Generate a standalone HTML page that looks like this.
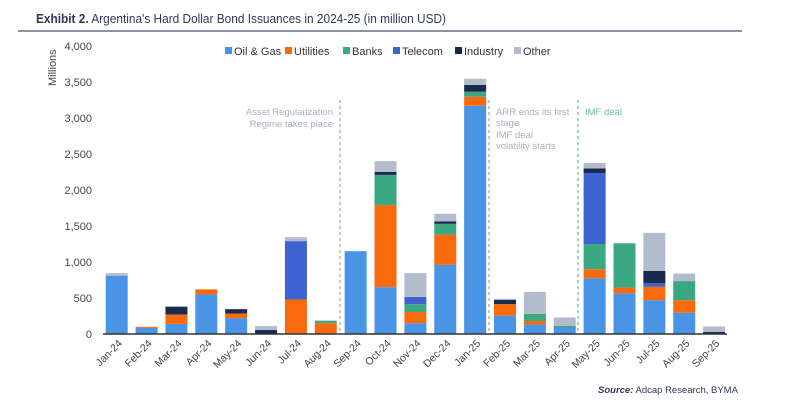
<!DOCTYPE html>
<html><head><meta charset="utf-8"><style>
body{margin:0;background:#fff;width:800px;height:410px;overflow:hidden;font-family:"Liberation Sans",sans-serif}
svg text{font-family:"Liberation Sans",sans-serif}
</style></head><body>
<svg id="chart" width="800" height="410" viewBox="0 0 800 410">
<text x="36" y="23" font-size="13" fill="#2a3a5a" textLength="410" lengthAdjust="spacingAndGlyphs"><tspan font-weight="bold">Exhibit 2.</tspan> Argentina's Hard Dollar Bond Issuances in 2024-25 (in million USD)</text>
<line x1="18" y1="31" x2="742" y2="31" stroke="#8a94a4" stroke-width="2"/>
<text transform="translate(56,86) rotate(-90)" font-size="11" fill="#444">Millions</text>
<g id="yaxis"></g>
<g id="bars"></g>
<g id="xaxis"></g>
<g id="legend"></g>
<g id="annot"></g>
<text x="598" y="393" font-size="9.5" fill="#2a3a5a"><tspan font-weight="bold" font-style="italic">Source:</tspan> Adcap Research, BYMA</text>
</svg>
<script>
const categories=["Jan-24","Feb-24","Mar-24","Apr-24","May-24","Jun-24","Jul-24","Aug-24","Sep-24","Oct-24","Nov-24","Dec-24","Jan-25","Feb-25","Mar-25","Apr-25","May-25","Jun-25","Jul-25","Aug-25","Sep-25"];
const seriesNames=["Oil & Gas","Utilities","Banks","Telecom","Industry","Other"];
const oilGas=[810,85,140,550,220,0,0,0,1150,650,150,960,3170,255,130,90,775,565,470,295,0];
const utilities=[0,15,130,70,65,0,480,150,0,1140,155,420,125,160,50,0,125,80,185,175,0];
const banks=[0,0,0,0,0,0,0,30,0,420,110,150,70,0,100,25,350,615,0,265,0];
const telecom=[0,0,0,0,0,0,810,0,0,0,100,0,0,0,0,0,985,0,50,0,0];
const industry=[0,0,110,0,60,55,0,0,0,40,0,35,95,60,0,0,65,0,170,0,30];
const other=[35,0,0,0,0,55,55,10,0,150,330,105,85,15,305,115,75,0,530,105,75];
const yTicks=[0,500,1000,1500,2000,2500,3000,3500,4000];
const colors=["#4a94e6","#f96a0d","#3aa882","#3d63d3","#1a2a4e","#b3bccc"];
const series=[oilGas,utilities,banks,telecom,industry,other];
const NS="http://www.w3.org/2000/svg";
const y0=334,yTop=46,yMax=4000,x0=116.7,step=29.87,bw=22;
const y=v=>y0-(v/yMax)*(y0-yTop);
const x=i=>x0+i*step;
function mk(t,a,p){const e=document.createElementNS(NS,t);for(const k in a)e.setAttribute(k,a[k]);p.appendChild(e);return e;}
const ya=document.getElementById('yaxis');
yTicks.forEach(v=>{const t=mk('text',{x:92,y:y(v)+4,'text-anchor':'end','font-size':11,fill:'#444'},ya);t.textContent=v.toLocaleString('en-US');

});
const bg=document.getElementById('bars');
categories.forEach((c,i)=>{let acc=0;series.forEach((s,j)=>{const v=s[i];if(v<=0)return;const r=mk('rect',{x:x(i)-bw/2,y:y(acc+v),width:bw,height:y(acc)-y(acc+v),fill:colors[j]},bg);

acc+=v;});});
const xa=document.getElementById('xaxis');
const al=mk('line',{x1:103,y1:y0,x2:727,y2:y0,stroke:'#333','stroke-width':1.5},xa);


categories.forEach((c,i)=>{const t=mk('text',{transform:`translate(${x(i)+6},${y0+10}) rotate(-45)`,'text-anchor':'end','font-size':10.5,fill:'#444'},xa);t.textContent=c;

});
const lg=document.getElementById('legend');
const lx=[225,285,343,393,455,514];
seriesNames.forEach((n,j)=>{const g=mk('g',{},lg);


mk('rect',{x:lx[j],y:47,width:7,height:7,fill:colors[j]},g);const t=mk('text',{x:lx[j]+9,y:55,'font-size':11,fill:'#333'},g);t.textContent=n;});
const an=document.getElementById('annot');
[[340,'#aaa'],[489,'#aaa'],[578,'#6cbf9a']].forEach(([lx2,col])=>{const l=mk('line',{x1:lx2,y1:100,x2:lx2,y2:y0,stroke:col,'stroke-width':1.3,'stroke-dasharray':'3,3'},an);

});
function lbl(txt,xx,yy,anc,col){const t=mk('text',{x:xx,y:yy,'text-anchor':anc,'font-size':9.5,fill:col},an);t.textContent=txt;

}
lbl('Asset Regularization',333,115,'end','#a9b0bd');lbl('Regime takes place',333,127,'end','#a9b0bd');
lbl('ARR ends its first',496,115,'start','#a9b0bd');lbl('stage',496,126,'start','#a9b0bd');lbl('IMF deal',496,138,'start','#a9b0bd');lbl('volatility starts',496,149,'start','#a9b0bd');
lbl('IMF deal',585,115,'start','#6cbf9a');
</script>
</body></html>
